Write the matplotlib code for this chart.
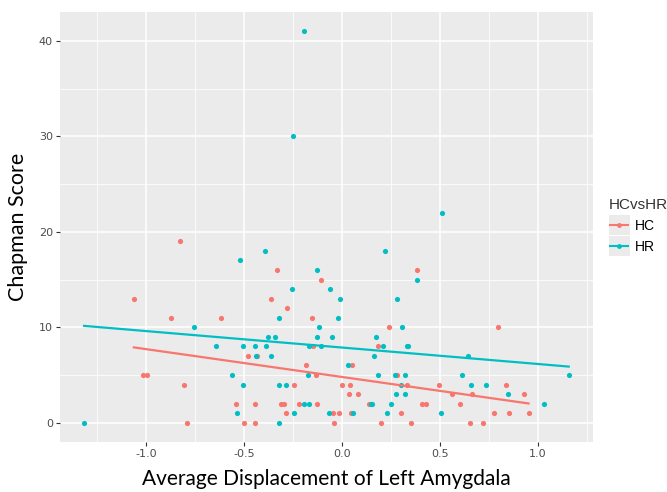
import numpy as np
import matplotlib
matplotlib.use("Agg")
import matplotlib.pyplot as plt
from matplotlib.lines import Line2D
from matplotlib.patches import Rectangle
from matplotlib.legend_handler import HandlerBase

# HC group (red)
hc_x = [-0.827, -1.061, -0.873, -0.617, -0.332, -0.363, -0.278, -0.107, -0.151,
        -1.014, -0.993, -0.808, -0.790, -0.478, -0.434, -0.542, -0.441, -0.500,
        -0.444, -0.312, -0.298, -0.285, -0.244, -0.220, -0.181, -0.146, -0.134,
        -0.127, -0.044, -0.014, -0.039, 0.000, 0.041, 0.037, 0.080, 0.051, 0.048,
        0.383, 0.241, 0.186, 0.793, 0.332, 0.280, 0.137, 0.300, 0.200, 0.353,
        0.407, 0.427, 0.495, 0.559, 0.603, 0.661, 0.653, 0.720, 0.773, 0.834,
        0.849, 0.927, 0.951]
hc_y = [19, 13, 11, 11, 16, 13, 12, 15, 11,
        5, 5, 4, 0, 7, 7, 2, 2, 0,
        0, 2, 2, 1, 4, 2, 6, 8, 5,
        2, 1, 1, 0, 4, 4, 3, 3, 6, 1,
        16, 10, 8, 10, 4, 5, 2, 1, 0, 0,
        2, 2, 4, 3, 2, 3, 0, 0, 1, 4,
        1, 3, 1]

# HR group (teal)
hr_x = [-1.315, -0.754, -0.519, -0.392, -0.642, -0.505, -0.441, -0.386, -0.378,
        -0.339, -0.319, -0.363, -0.437, -0.563, -0.505, -0.537, -0.319, -0.288,
        -0.319, -0.244, -0.195, -0.166, -0.254, -0.127, -0.063, -0.008, -0.019,
        -0.117, -0.127, -0.049, -0.166, -0.107, -0.171, -0.064, 0.031, 0.058,
        -0.195, -0.251, 0.510,
        0.217, 0.383, 0.281, 0.305, 0.173, 0.207, 0.332, 0.339, 0.163, 0.186,
        0.271, 0.320, 0.300, 0.275, 0.320, 0.147, 0.154, 0.251, 0.232, 0.507,
        0.614, 0.642, 0.658, 0.736, 0.844, 1.030, 1.156]
hr_y = [0, 10, 17, 18, 8, 8, 8, 8, 9,
        9, 11, 7, 7, 5, 4, 1, 4, 4,
        0, 1, 2, 2, 14, 16, 14, 13, 11,
        10, 9, 9, 8, 8, 5, 1, 6, 1,
        41, 30, 22,
        18, 15, 13, 10, 9, 8, 8, 8, 7, 5,
        5, 5, 4, 3, 3, 2, 2, 2, 1, 1,
        5, 7, 4, 4, 3, 2, 5]

groups = ["HC", "HR"]
colors = {"HC": "#F8766D", "HR": "#00BFC4"}
data = {"HC": (hc_x, hc_y), "HR": (hr_x, hr_y)}

x_ticks = [-1.0, -0.5, 0.0, 0.5, 1.0]
y_ticks = [0, 10, 20, 30, 40]

LEG_FS = 10
LEG_SPACING = 0.4


# legend key like ggplot: grey box with line + point
class KeyHandler(HandlerBase):
    def create_artists(self, legend, orig_handle, xdescent, ydescent,
                       width, height, fontsize, trans):
        c = orig_handle.get_color()
        gap = LEG_SPACING * fontsize / 2
        box = Rectangle((-xdescent, -ydescent - gap), width, height + 2 * gap,
                        facecolor="#EBEBEB", edgecolor="none", transform=trans)
        mid = -ydescent + height / 2
        ln = Line2D([-xdescent + 1, -xdescent + width - 1], [mid, mid],
                    color=c, lw=1.5, transform=trans)
        pt = Line2D([-xdescent + width / 2], [mid], marker="o", markersize=3.5,
                    color=c, markeredgewidth=0, transform=trans)
        return [box, ln, pt]


fig = plt.figure(figsize=(6.67, 4.92), dpi=100)
ax = fig.add_axes([0.0897, 0.101, 0.7993, 0.875])
ax.set_facecolor("#EBEBEB")

for g in groups:
    x, y = np.array(data[g][0]), np.array(data[g][1])
    ax.scatter(x, y, s=14, color=colors[g], zorder=3, linewidths=0)
    k, b = np.polyfit(x, y, 1)
    xs = np.array([x.min(), x.max()])
    ax.plot(xs, k * xs + b, color=colors[g], lw=1.6, zorder=4)

# ggplot-like limits with 5% expansion
all_x = np.array(hc_x + hr_x)
all_y = np.array(hc_y + hr_y)
dx = (all_x.max() - all_x.min()) * 0.05
dy = (all_y.max() - all_y.min()) * 0.05
ax.set_xlim(all_x.min() - dx, all_x.max() + dx)
ax.set_ylim(all_y.min() - dy, all_y.max() + dy)

ax.set_xticks(x_ticks)
ax.set_xticklabels(["-1.0", "-0.5", "0.0", "0.5", "1.0"])
ax.set_yticks(y_ticks)
ax.set_xticks([-1.25, -0.75, -0.25, 0.25, 0.75, 1.25], minor=True)
ax.set_yticks([5, 15, 25, 35], minor=True)
ax.grid(which="major", color="white", lw=1.1)
ax.grid(which="minor", color="white", lw=0.55)
ax.set_axisbelow(True)
for s in ax.spines.values():
    s.set_visible(False)
ax.tick_params(which="major", length=3, color="#333333", labelcolor="#4D4D4D",
               labelsize=8, pad=2)
ax.tick_params(which="minor", length=0)

ax.set_xlabel("Average Displacement of Left Amygdala", fontsize=15,
              family="Lato", labelpad=7)
ax.set_ylabel("Chapman Score", fontsize=15.5, family="Lato", labelpad=8)

handles = [Line2D([0], [0], color=colors[g]) for g in groups]
leg = fig.legend(handles, groups, title="HCvsHR", loc="upper left",
                 bbox_to_anchor=(0.894, 0.622), frameon=False,
                 prop={"family": "Liberation Sans", "size": LEG_FS},
                 title_fontproperties={"family": "Liberation Sans", "size": 11},
                 handlelength=1.5, handleheight=1.25,
                 handletextpad=0.35, labelspacing=LEG_SPACING, alignment="left",
                 handler_map={Line2D: KeyHandler()})
leg.get_title().set_color("#333333")

fig.savefig("out.png", dpi=100)
